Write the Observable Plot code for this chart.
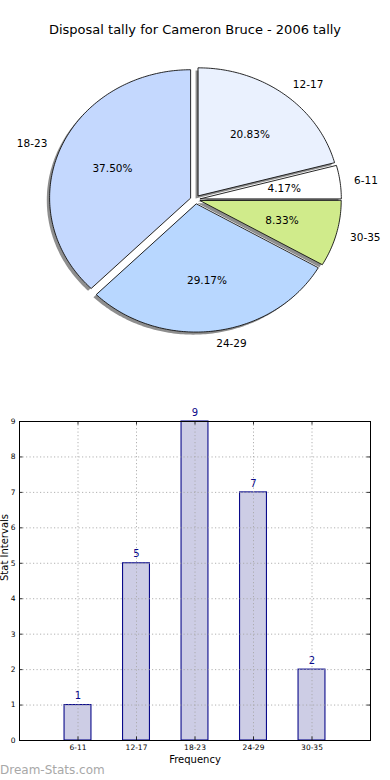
<!DOCTYPE html>
<html>
<head>
<meta charset="utf-8">
<script src="https://cdn.jsdelivr.net/npm/d3@7"></script>
<script src="https://cdn.jsdelivr.net/npm/@observablehq/plot@0.6"></script>
<style>
  body { margin: 0; background: #fff; font-family: "DejaVu Sans", sans-serif; }
  #wrap { position: relative; width: 390px; height: 780px; overflow: hidden; }
  #title { height: 50px; box-sizing: border-box; padding-top: 22px; line-height: 16px; font-size: 13px; text-align: center; color: #000; }
  #mark { position: absolute; left: 0; top: 762px; font-size: 12px; font-weight: normal; color: #a8a8a8; line-height: 16px; }
  svg { display: block; }
</style>
</head>
<body>
<div id="wrap">
  <div id="title">Disposal tally for Cameron Bruce - 2006 tally</div>
  <div id="pie"></div>
  <div id="bar"></div>
  <div id="mark">Dream-Stats.com</div>
</div>
<script>
// ---- data ----
const categories = ["6-11", "12-17", "18-23", "24-29", "30-35"];
const counts = [1, 5, 9, 7, 2];
const percentLabels = ["4.17%", "20.83%", "37.50%", "29.17%", "8.33%"];
const sliceColors = ["#ffffff", "#eaf1fe", "#c4d8fe", "#b8d7ff", "#d0eb8b"];
const yTickValues = [0, 1, 2, 3, 4, 5, 6, 7, 8, 9];

// ---- pie geometry (unit radius, counterclockwise from east) ----
const explode = 0.036;
const total = d3.sum(counts);
let acc = 0;
const slices = categories.map((c, i) => {
  const a0 = acc / total * 2 * Math.PI;
  acc += counts[i];
  const a1 = acc / total * 2 * Math.PI;
  const mid = (a0 + a1) / 2;
  return {key: c, i, a0, a1, mid, ox: explode * Math.cos(mid), oy: explode * Math.sin(mid), color: sliceColors[i], pct: percentLabels[i]};
});
const piePoints = [];
for (const s of slices) {
  piePoints.push({key: s.key, x: s.ox, y: s.oy, color: s.color});
  const n = Math.max(4, Math.ceil((s.a1 - s.a0) / (Math.PI / 180)));
  for (let k = 0; k <= n; k++) {
    const a = s.a0 + (s.a1 - s.a0) * k / n;
    piePoints.push({key: s.key, x: s.ox + Math.cos(a), y: s.oy + Math.sin(a), color: s.color});
  }
}
const labelPts = slices.map(s => ({
  text: s.key, right: Math.cos(s.mid) >= 0,
  x: s.ox + 1.1 * Math.cos(s.mid), y: s.oy + 1.1 * Math.sin(s.mid)
}));
const pctPts = slices.map(s => ({
  text: s.pct, x: s.ox + 0.6 * Math.cos(s.mid), y: s.oy + 0.6 * Math.sin(s.mid)
}));

const pie = Plot.plot({
  width: 390, height: 320, margin: 0,
  x: {domain: [-1, 1], range: [53.8, 335.8], axis: null},
  y: {domain: [-1, 1], range: [277, 21], axis: null},
  color: {type: "identity"},
  style: {fontFamily: "DejaVu Sans", background: "transparent"},
  marks: [
    Plot.line(piePoints, {x: d => d.x - 0.02, y: d => d.y - 0.02, z: "key", fill: "#8e8e8e", stroke: "none", curve: "linear-closed"}),
    Plot.line(piePoints, {x: "x", y: "y", z: "key", fill: "color", stroke: "#111", strokeWidth: 0.9, curve: "linear-closed"}),
    Plot.text(labelPts.filter(d => d.right), {x: "x", y: "y", text: "text", textAnchor: "start", fontSize: 10.5, fill: "#000"}),
    Plot.text(labelPts.filter(d => !d.right), {x: "x", y: "y", text: "text", textAnchor: "end", fontSize: 10.5, fill: "#000"}),
    Plot.text(pctPts, {x: "x", y: "y", text: "text", fontSize: 10.5, fill: "#000"})
  ]
});
document.getElementById("pie").appendChild(pie);

// ---- bar chart ----
const bars = categories.map((c, i) => ({cat: c, pos: i + 1, v: counts[i]}));
const positions = bars.map(d => d.pos);
const halfW = 0.23;

const bar = Plot.plot({
  width: 390, height: 410,
  marginTop: 51, marginBottom: 40, marginLeft: 19, marginRight: 20,
  x: {domain: [0, 6]},
  y: {domain: [0, 9]},
  style: {fontFamily: "DejaVu Sans", fontSize: "7.5px", background: "transparent", color: "#000"},
  marks: [
    Plot.rectY(bars, {x1: d => d.pos - halfW, x2: d => d.pos + halfW, y1: 0, y2: "v", fill: "#cdcde5", stroke: "#0a0a8a", strokeWidth: 1.1}),
    Plot.gridY(yTickValues, {stroke: "#a8a8a8", strokeOpacity: 0.9, strokeDasharray: "1.2,2.3"}),
    Plot.gridX(positions, {stroke: "#a8a8a8", strokeOpacity: 0.9, strokeDasharray: "1.2,2.3"}),
    Plot.ruleY(yTickValues, {x1: 0, x2: 0.06, stroke: "#000", strokeWidth: 0.8}),
    Plot.ruleY(yTickValues, {x1: 5.94, x2: 6, stroke: "#000", strokeWidth: 0.8}),
    Plot.ruleX(positions, {y1: 0, y2: 0.1, stroke: "#000", strokeWidth: 0.8}),
    Plot.ruleX(positions, {y1: 8.9, y2: 9, stroke: "#000", strokeWidth: 0.8}),
    Plot.frame({stroke: "#000", strokeWidth: 1}),
    Plot.axisY(yTickValues, {tickSize: 0, tickPadding: 4, label: null}),
    Plot.axisX(positions, {tickSize: 0, tickPadding: 4, tickFormat: p => categories[p - 1], label: null}),
    Plot.text(bars, {x: "pos", y: "v", text: d => String(d.v), dy: -9, fill: "#0a0a8a", fontSize: 10}),
    Plot.text(["Frequency"], {frameAnchor: "bottom", dy: 22, fontSize: 10, fill: "#000"}),
    Plot.text(["Stat Intervals"], {frameAnchor: "left", dx: -15, rotate: -90, fontSize: 10, fill: "#000"})
  ]
});
document.getElementById("bar").appendChild(bar);
</script>
</body>
</html>
